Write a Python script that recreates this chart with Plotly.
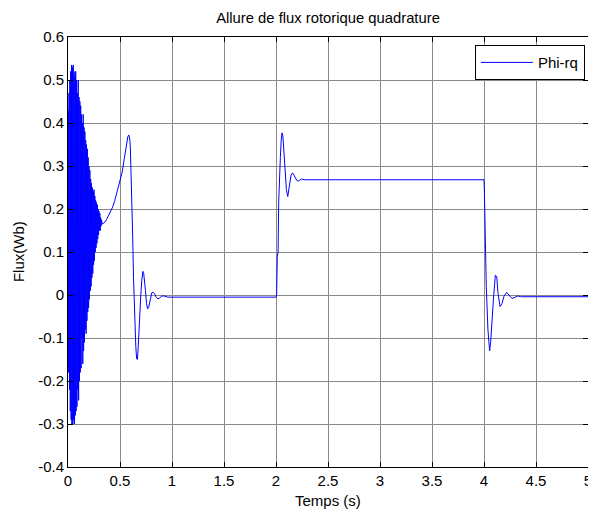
import plotly.graph_objects as go

# Start-up transient (dense oscillation)
t_start = [0.000,
           0.002, 0.006, 0.010, 0.014, 0.018, 0.022, 0.026, 0.030, 0.034, 0.038,
           0.042, 0.046, 0.050, 0.054, 0.058, 0.062, 0.066, 0.070, 0.074, 0.078,
           0.082, 0.086, 0.090, 0.094, 0.098, 0.102, 0.106, 0.110, 0.114, 0.118,
           0.122, 0.126, 0.130, 0.134, 0.138, 0.142, 0.146, 0.150, 0.154, 0.158,
           0.162, 0.166, 0.170, 0.174, 0.178, 0.182, 0.186, 0.190, 0.194, 0.198,
           0.202, 0.206, 0.210, 0.214, 0.218, 0.222, 0.226, 0.230, 0.234, 0.238,
           0.242, 0.246, 0.250, 0.254, 0.258, 0.262, 0.266, 0.270, 0.274, 0.278,
           0.282, 0.286, 0.290, 0.294, 0.298, 0.302, 0.306, 0.310, 0.314, 0.318,
           0.322, 0.330]
v_start = [0.000,
           0.43, -0.18, 0.47, -0.22, 0.50, -0.27, 0.52, -0.29, 0.535, -0.30,
           0.53, -0.30, 0.535, -0.29, 0.52, -0.30, 0.51, -0.28, 0.52, -0.27,
           0.50, -0.26, 0.47, -0.22, 0.50, -0.245, 0.46, -0.20, 0.45, -0.18,
           0.44, -0.17, 0.42, -0.10, 0.40, -0.16, 0.42, -0.13, 0.39, -0.11,
           0.38, -0.08, 0.36, -0.09, 0.35, -0.06, 0.34, -0.04, 0.32, -0.03,
           0.30, -0.01, 0.29, 0.01, 0.27, 0.02, 0.26, 0.04, 0.25, 0.05,
           0.24, 0.07, 0.245, 0.08, 0.23, 0.10, 0.22, 0.11, 0.215, 0.12,
           0.21, 0.13, 0.20, 0.14, 0.195, 0.15, 0.19, 0.15, 0.18, 0.16,
           0.175, 0.165]

# Smooth build-up, no-load transient and steady state
t_rise = [0.35, 0.37, 0.40, 0.43, 0.45, 0.47, 0.50, 0.52, 0.54, 0.56, 0.575,
          0.585, 0.595, 0.600, 0.607, 0.615, 0.622, 0.630, 0.636, 0.645, 0.652,
          0.660, 0.667, 0.673, 0.680, 0.690, 0.700, 0.710, 0.720, 0.728, 0.736,
          0.745, 0.755, 0.765, 0.775, 0.785, 0.795, 0.805, 0.820, 0.835, 0.850,
          0.865, 0.880, 0.900, 0.920, 0.940, 0.960, 2.000]
v_rise = [0.168, 0.175, 0.19, 0.205, 0.22, 0.237, 0.265, 0.285, 0.315, 0.345, 0.368,
          0.372, 0.36, 0.34, 0.29, 0.20, 0.135, 0.04, -0.02, -0.09, -0.12,
          -0.148, -0.15, -0.13, -0.09, -0.04, 0.00, 0.035, 0.055, 0.05, 0.035,
          0.01, -0.02, -0.032, -0.03, -0.02, -0.005, 0.005, 0.006, 0.002, -0.006,
          -0.009, -0.007, -0.003, -0.002, -0.004, -0.005, -0.005]

# Load step at t = 2 s
t_step = [2.006, 2.012, 2.020, 2.026, 2.034, 2.042, 2.050, 2.058, 2.066, 2.074,
          2.082, 2.090, 2.100, 2.113, 2.126, 2.136, 2.145, 2.155, 2.164, 2.176,
          2.190, 2.202, 2.215, 2.230, 2.247, 2.270, 4.000]
v_step = [0.000, 0.089, 0.10, 0.217, 0.30, 0.32, 0.36, 0.377, 0.37, 0.339,
          0.30, 0.279, 0.245, 0.229, 0.252, 0.268, 0.279, 0.283, 0.283, 0.277,
          0.271, 0.266, 0.265, 0.268, 0.27, 0.268, 0.268]

# Load removal at t = 4 s
t_drop = [4.004, 4.010, 4.022, 4.038, 4.054, 4.064, 4.077, 4.090, 4.109, 4.122,
          4.135, 4.154, 4.173, 4.192, 4.218, 4.244, 4.270, 4.300, 4.327, 4.350, 5.000]
v_drop = [0.237, 0.136, 0.02, -0.081, -0.13, -0.11, -0.043, -0.012, 0.046, 0.043,
          0.004, -0.027, -0.02, -0.003, 0.006, -0.002, -0.008, -0.005, -0.002, -0.004, -0.004]

t_all = t_start + t_rise + t_step + t_drop
v_all = v_start + v_rise + v_step + v_drop

x_ticks = [0, 0.5, 1, 1.5, 2, 2.5, 3, 3.5, 4, 4.5, 5]
x_tick_text = ["0", "0.5", "1", "1.5", "2", "2.5", "3", "3.5", "4", "4.5", "5"]
y_ticks = [-0.4, -0.3, -0.2, -0.1, 0, 0.1, 0.2, 0.3, 0.4, 0.5, 0.6]
y_tick_text = ["-0.4", "-0.3", "-0.2", "-0.1", "0", "0.1", "0.2", "0.3", "0.4", "0.5", "0.6"]

fig = go.Figure()
fig.add_trace(go.Scatter(x=t_all, y=v_all, mode="lines", name="Phi-rq",
                         line=dict(color="#0000FF", width=1)))

font = "Liberation Sans, Arial, sans-serif"
FS = 15
axis_common = dict(showline=True, linecolor="black", linewidth=1, mirror="allticks",
                   ticks="inside", ticklen=5, tickcolor="black",
                   showgrid=True, gridcolor="#888888", gridwidth=1,
                   zeroline=False, automargin=False,
                   tickfont=dict(family=font, size=FS, color="black"))

# the page body adds an 8px offset, so the figure is sized to fit inside it
fig.update_layout(
    width=588, height=507,
    margin=dict(l=60, r=8, t=29, b=48, autoexpand=False),
    paper_bgcolor="white", plot_bgcolor="white",
    title=dict(text="Allure de flux rotorique quadrature", x=0.5, xanchor="center",
               xref="paper", y=0.980, yref="container", yanchor="middle",
               font=dict(family=font, size=14.8, color="black")),
    xaxis=dict(range=[0, 5], tickvals=x_ticks, ticktext=x_tick_text, **axis_common),
    yaxis=dict(range=[-0.4, 0.6], tickvals=y_ticks, ticktext=y_tick_text, **axis_common),
    showlegend=True,
    legend=dict(x=0.994, y=0.981, xanchor="right", yanchor="top",
                bgcolor="white", bordercolor="black", borderwidth=1,
                font=dict(family=font, size=FS, color="black"),
                itemwidth=52, tracegroupgap=0),
    annotations=[
        dict(text="Temps (s)", xref="paper", yref="paper", x=0.5, y=-0.079,
             xanchor="center", yanchor="middle", showarrow=False,
             font=dict(family=font, size=FS, color="black")),
        dict(text="Flux(Wb)", xref="paper", yref="paper", x=-0.096, y=0.5,
             xanchor="center", yanchor="middle", showarrow=False, textangle=-90,
             font=dict(family=font, size=FS, color="black")),
    ],
)

fig.write_html("out.html")
